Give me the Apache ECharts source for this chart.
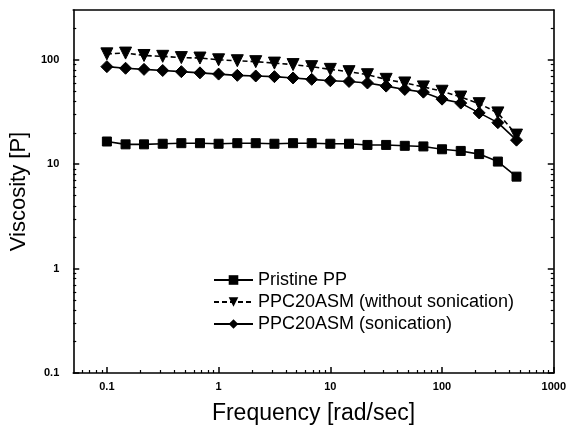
<!DOCTYPE html>
<html><head><meta charset="utf-8">
<script src="https://cdn.jsdelivr.net/npm/echarts@6/dist/echarts.min.js"></script>
<style>html,body{margin:0;padding:0;background:#fff}#c{width:569px;height:434px}</style>
</head><body><div id="c"></div>
<script>
// Frequency [rad/sec]
const freq = [0.1, 0.147, 0.215, 0.316, 0.464, 0.681, 1, 1.47, 2.15, 3.16, 4.64, 6.81, 10, 14.7, 21.5, 31.6, 46.4, 68.1, 100, 147, 215, 316, 464];
// Viscosity [P]
const pristinePP = [16.5, 15.5, 15.5, 15.7, 15.9, 15.9, 15.7, 15.9, 15.9, 15.7, 15.9, 15.9, 15.7, 15.7, 15.3, 15.3, 15.0, 14.8, 13.9, 13.4, 12.5, 10.6, 7.6];
const withoutSonication = [114, 116, 110, 108, 105, 104, 100, 98, 96, 93, 90, 86, 81, 77, 72, 65, 60, 55, 50, 44, 38, 31, 19];
const withSonication = [86, 83, 81, 79, 77, 75, 73, 71, 70, 69, 67, 65, 63, 62, 60, 56, 52, 49, 42, 38.5, 31, 25, 17];
const seriesNames = ['Pristine PP', 'PPC20ASM (without sonication)', 'PPC20ASM (sonication)'];
const xTickLabels = [0.1, 1, 10, 100, 1000];
const yTickLabels = [0.1, 1, 10, 100];

const X_MIN = 0.05, X_MAX = 1000, Y_MIN = 0.1, Y_MAX = 300;

function minors(lo, hi) {
  const out = [];
  for (let e = -3; e <= 3; e++) for (let m = 2; m <= 9; m++) {
    const v = +(m * Math.pow(10, e)).toPrecision(3);
    if (v > lo && v < hi) out.push(v);
  }
  return out;
}
const xMinor = minors(X_MIN, X_MAX);
const yMinor = minors(Y_MIN, Y_MAX);

const black = '#000';
const labelFont = { color: black, fontFamily: 'Liberation Sans, Arial, sans-serif', fontWeight: 'bold', fontSize: 11 };
const titleFont = { color: black, fontFamily: 'Liberation Sans, Arial, sans-serif', fontSize: 23 };

function logAxis(extra, min, max) {
  return Object.assign({
    type: 'log', logBase: 10, min: min, max: max,
    splitLine: { show: false }, minorTick: { show: false }, minorSplitLine: { show: false },
    axisLine: { show: true, onZero: false, lineStyle: { color: black, width: 1.6 } },
    axisTick: { show: false },
    axisLabel: { show: false }
  }, extra);
}

const xAxes = [
  logAxis({
    position: 'bottom',
    name: 'Frequency [rad/sec]', nameLocation: 'middle', nameGap: 29, nameTextStyle: titleFont,
    axisTick: { show: true, inside: true, length: 6, customValues: xTickLabels, lineStyle: { color: black, width: 1.5 } },
    axisLabel: Object.assign({ show: true, margin: 8, customValues: xTickLabels, formatter: v => String(v) }, labelFont)
  }, X_MIN, X_MAX),
  logAxis({
    position: 'bottom', axisLine: { show: false },
    axisTick: { show: true, inside: true, length: 3, customValues: xMinor, lineStyle: { color: black, width: 1.2 } }
  }, X_MIN, X_MAX),
  logAxis({ position: 'top' }, X_MIN, X_MAX)
];
const yAxes = [
  logAxis({
    position: 'left',
    name: 'Viscosity [P]', nameLocation: 'middle', nameGap: 36, nameTextStyle: Object.assign({}, titleFont, { fontSize: 22 }),
    axisTick: { show: true, inside: true, length: 6, customValues: yTickLabels, lineStyle: { color: black, width: 1.5 } },
    axisLabel: Object.assign({ show: true, margin: 14, customValues: yTickLabels, formatter: v => String(v) }, labelFont)
  }, Y_MIN, Y_MAX),
  logAxis({
    position: 'left', axisLine: { show: false },
    axisTick: { show: true, inside: true, length: 3, customValues: yMinor, lineStyle: { color: black, width: 1.2 } }
  }, Y_MIN, Y_MAX),
  logAxis({
    position: 'right',
    axisTick: { show: true, inside: true, length: 6, customValues: yTickLabels, lineStyle: { color: black, width: 1.5 } }
  }, Y_MIN, Y_MAX),
  logAxis({
    position: 'right', axisLine: { show: false },
    axisTick: { show: true, inside: true, length: 3, customValues: yMinor, lineStyle: { color: black, width: 1.2 } }
  }, Y_MIN, Y_MAX)
];

function pairs(ys) { return freq.map((f, i) => [f, ys[i]]); }

const symbols = [
  { symbol: 'rect', symbolSize: 9, rotate: 0, type: 'solid' },
  { symbol: 'triangle', symbolSize: 12, rotate: 180, type: [5, 3] },
  { symbol: 'diamond', symbolSize: 12, rotate: 0, type: 'solid' }
];
const values = [pristinePP, withoutSonication, withSonication];

const series = values.map((v, i) => ({
  name: seriesNames[i], type: 'line', xAxisIndex: 0, yAxisIndex: 0,
  data: pairs(v),
  symbol: symbols[i].symbol, symbolSize: symbols[i].symbolSize, symbolRotate: symbols[i].rotate,
  showAllSymbol: true,
  lineStyle: { color: black, width: 1.6, type: symbols[i].type },
  itemStyle: { color: black, borderColor: black },
  emphasis: { disabled: true },
  animation: false
}));

const chart = echarts.init(document.getElementById('c'), null, { renderer: 'canvas' });
chart.setOption({
  backgroundColor: '#fff',
  animation: false,
  grid: { left: 66, right: 14, top: 10, bottom: 61, containLabel: false },
  xAxis: xAxes,
  yAxis: yAxes,
  legend: {
    orient: 'vertical', left: 208, top: 266, itemWidth: 39, itemHeight: 12, itemGap: 4,
    textStyle: { color: black, fontFamily: 'Liberation Sans, Arial, sans-serif', fontSize: 18 },
    data: seriesNames
  },
  series: series
});
</script>
</body></html>
